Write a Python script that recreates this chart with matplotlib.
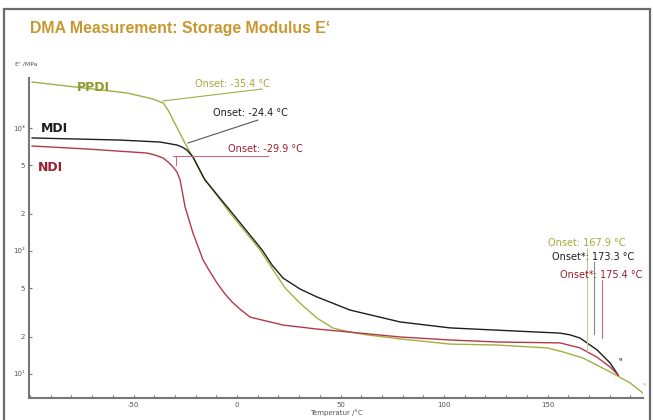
import numpy as np
import matplotlib
matplotlib.use("Agg")
import matplotlib.pyplot as plt
from matplotlib import font_manager
from matplotlib.patches import Rectangle
from matplotlib.ticker import MultipleLocator, NullLocator

# E' (MPa) gegen Temperatur (°C)
ppdi_t = [-99.0, -53.1, -40.6, -38.2, -35.7, -33.3, -30.9, -24.2, -21.3, -16.4, -3.4, 11.1, 23.2,
          30.4, 38.6, 46.4, 54.6, 62.8, 78.7, 102.9, 125.6, 149.8, 157.5, 167.1, 180.2, 189.9, 196.1]
ppdi_e = [2366, 1926, 1721, 1658, 1596, 1400, 1161, 701, 581, 400, 204, 102, 50,
          37.7, 28.5, 23.6, 21.9, 20.8, 19.3, 17.5, 17.2, 16.3, 15.1, 13.5, 10.4, 8.45, 7.0]

mdi_t = [-99.0, -56.5, -37.2, -29.0, -26.6, -24.2, -21.3, -15.5, -2.4, 12.1, 16.9, 22.2,
         30.4, 38.6, 54.6, 78.7, 102.9, 133.3, 156.0, 160.9, 165.7, 173.9, 180.2, 184.1]
mdi_e = [830, 798, 769, 727, 701, 662, 581, 378, 204, 102, 77, 60.3,
         49.1, 42.3, 33.1, 26.5, 23.7, 22.4, 21.5, 20.8, 19.6, 15.7, 12.3, 9.8]

ndi_t = [-99.0, -72.5, -43.5, -39.6, -35.7, -33.3, -30.9, -29.0, -27.5, -25.1, -21.3, -16.4,
         -13.0, -9.7, -5.8, -2.4, 1.4, 6.3, 22.2, 38.6, 54.6, 78.7, 102.9, 125.6, 156.0,
         165.7, 173.9, 180.2, 184.1]
ndi_e = [714, 675, 626, 603, 570, 529, 482, 438, 378, 228, 140, 84.5,
         67.4, 55, 44.7, 38.5, 33.7, 29.0, 25.0, 23.2, 21.9, 20.0, 18.9, 18.2, 17.9,
         16.3, 13.7, 11.4, 9.8]

onset_low = ["Onset: -35.4 °C", "Onset: -24.4 °C", "Onset: -29.9 °C"]
onset_high = ["Onset: 167.9 °C", "Onset*: 173.3 °C", "Onset*: 175.4 °C"]

c_ppdi = "#a2b043"
c_mdi = "#1e1e1e"
c_ndi = "#b53849"
c_ppdi_txt = "#8e9b2c"
c_ndi_txt = "#9c1f2f"
gold = "#c9972f"

plt.rcParams['font.family'] = ['DejaVu Sans']
plt.rcParams['axes.unicode_minus'] = False

# schmale Schrift für den Titel, falls vorhanden
names = {f.name for f in font_manager.fontManager.ttflist}
if 'Liberation Sans Narrow' in names:
    title_font, title_size = 'Liberation Sans Narrow', 15.0
else:
    title_font, title_size = 'Liberation Sans', 11.4

fig = plt.figure(figsize=(6.53, 4.2), dpi=100)
ax = fig.add_axes([29 / 653, 22 / 420, 614 / 653, 320 / 420])

# Rahmen der Folie
fig.patches.append(Rectangle((4 / 653, -0.05), 646 / 653, 1.05 - 9 / 420,
                             transform=fig.transFigure, fill=False,
                             edgecolor="#6a6a6a", lw=1.6))

fig.text(30 / 653, 1 - 29 / 420, "DMA Measurement: Storage Modulus E‘",
         family=title_font, fontweight="bold",
         fontsize=title_size, color=gold, va="center", ha="left")

ax.plot(ppdi_t, ppdi_e, color=c_ppdi, lw=1.0)
ax.plot(mdi_t, mdi_e, color=c_mdi, lw=1.0)
ax.plot(ndi_t, ndi_e, color=c_ndi, lw=1.0)

ax.set_yscale("log")
ax.set_xlim(-100.5, 196.1)
ax.set_ylim(6.38, 2550)

for s in ["top", "right"]:
    ax.spines[s].set_visible(False)
for s in ["left", "bottom"]:
    ax.spines[s].set_color("#777777")
    ax.spines[s].set_linewidth(1.5)

ax.set_yticks([10, 20, 50, 100, 200, 500, 1000])
ax.set_yticklabels(["10¹", "2", "5", "10²", "2", "5", "10³"])
ax.yaxis.set_minor_locator(NullLocator())
ax.set_xticks([-50, 0, 50, 100, 150])
ax.xaxis.set_minor_locator(MultipleLocator(10))
ax.tick_params(axis="both", which="both", direction="in", color="#777777",
               labelcolor="#555555", labelsize=5, length=2.5, width=0.8, pad=3)

fig.text(15 / 653, 1 - 64 / 420, "E' /MPa", fontsize=4.5, color="#555555", va="center")
ax.set_xlabel("Temperatur /°C", fontsize=5, color="#555555", labelpad=1)

# Kurvennamen
ax.text(-77.3, 2150, "PPDI", color=c_ppdi_txt, fontsize=9, fontweight="bold", va="center")
ax.text(-94.7, 1000, "MDI", color=c_mdi, fontsize=9, fontweight="bold", va="center")
ax.text(-96.1, 475, "NDI", color=c_ndi_txt, fontsize=9, fontweight="bold", va="center")

# Onset-Markierungen unten
ax.plot([-35.7, 12.1], [1660, 2075], color=c_ppdi, lw=0.8)
ax.text(-20.3, 2280, onset_low[0], color="#a3aa3a", fontsize=7, va="center")
ax.plot([-23.7, 10.1], [755, 1161], color="#555555", lw=0.8)
ax.text(-11.6, 1324, onset_low[1], color=c_mdi, fontsize=7, va="center")
ax.plot([-30.9, 15.0], [592, 592], color="#c07080", lw=0.8)
ax.plot([-29.5, -29.5], [592, 500], color="#c07080", lw=0.8)
ax.text(-4.3, 674, onset_low[2], color=c_ndi_txt, fontsize=7, va="center")

# Onset-Markierungen oben
ax.plot([169.0, 169.0], [105, 15.5], color="#c8cc88", lw=0.8)
ax.plot([172.3, 172.3], [82, 21.0], color="#888888", lw=0.8)
ax.plot([176.3, 176.3], [58, 19.5], color="#c07080", lw=0.8)
ax.text(150.2, 116, onset_high[0], color="#a3aa3a", fontsize=7, va="center")
ax.text(152.2, 89.3, onset_high[1], color=c_mdi, fontsize=7, va="center")
ax.text(156.0, 63.8, onset_high[2], color=c_ndi_txt, fontsize=7, va="center")

# kleine Marker am Ende der Kurven
ax.text(185.0, 12.8, "ᵍ", color=c_mdi, fontsize=6, ha="center", va="center")
ax.text(197.0, 8.0, "ᵍ", color="#bbbbbb", fontsize=6, ha="center", va="center")

fig.savefig("out.png", dpi=100)
